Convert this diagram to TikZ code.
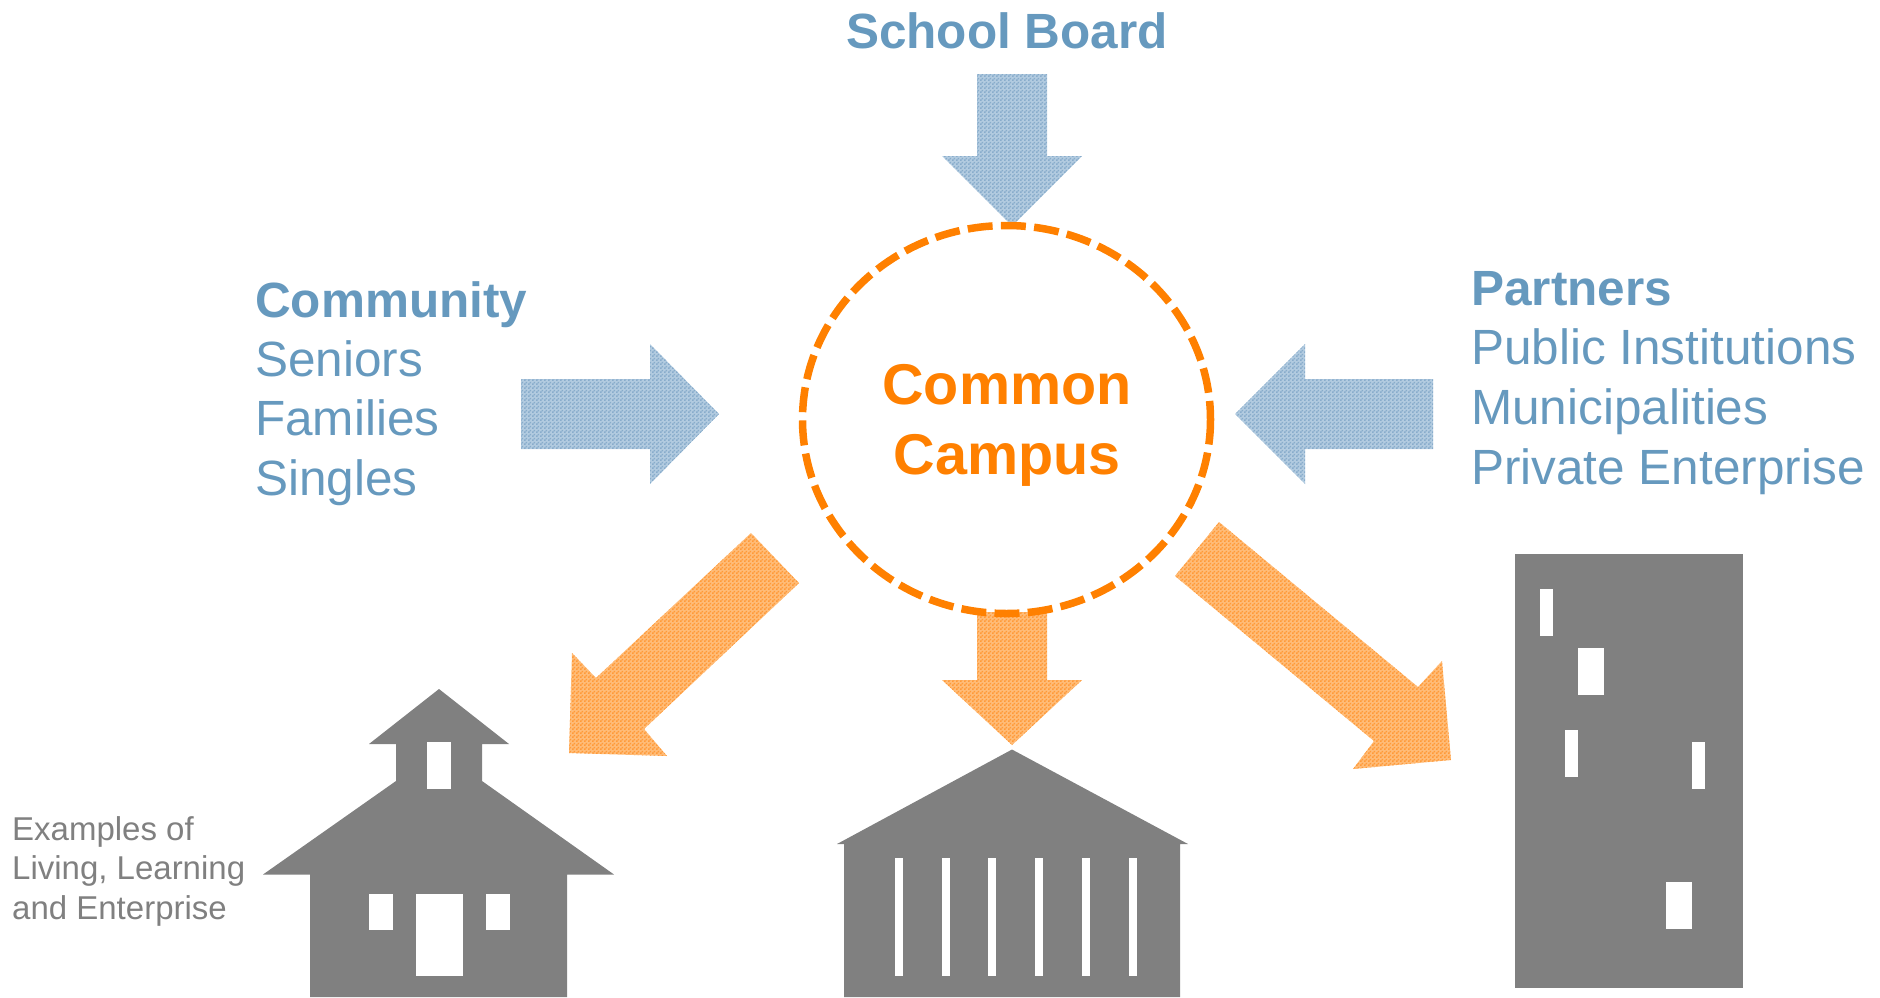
\documentclass[tikz,border=0pt]{standalone}
\usepackage{fontspec}
\usetikzlibrary{patterns}
\setmainfont{Liberation Sans}
\definecolor{txtblue}{HTML}{6699BE}
\definecolor{bluelight}{HTML}{B2CBE0}
\definecolor{bluedark}{HTML}{88ACCB}
\definecolor{orangelight}{HTML}{FFBC78}
\definecolor{orangedark}{HTML}{FF9A38}
\definecolor{campus}{HTML}{FF8000}
\definecolor{bldg}{HTML}{808080}
\pgfdeclarepatternformonly{ditherchk}{\pgfqpoint{0pt}{0pt}}{\pgfqpoint{4pt}{4pt}}{\pgfqpoint{4pt}{4pt}}{%
  \pgfpathrectangle{\pgfqpoint{0pt}{0pt}}{\pgfqpoint{2pt}{2pt}}%
  \pgfpathrectangle{\pgfqpoint{2pt}{2pt}}{\pgfqpoint{2pt}{2pt}}%
  \pgfusepath{fill}}
\tikzset{
  boardtext/.style={anchor=base,font=\fontsize{49.5}{60}\selectfont\bfseries,text=txtblue,inner sep=0pt},
  stack/.style={anchor=base west,font=\fontsize{49.5}{60}\selectfont,text=txtblue,inner sep=0pt},
  stackhead/.style={stack,font=\fontsize{49.5}{60}\selectfont\bfseries},
  campustext/.style={anchor=base,font=\fontsize{57.5}{68}\selectfont\bfseries,text=campus,inner sep=0pt},
  small/.style={anchor=base west,font=\fontsize{33}{40}\selectfont,text=bldg,inner sep=0pt},
  inblue/.style={preaction={fill=bluelight},pattern=ditherchk,pattern color=bluedark},
  outorange/.style={preaction={fill=orangelight},pattern=ditherchk,pattern color=orangedark},
  building/.style={fill=bldg,draw=none},
  hole/.style={fill=white,draw=none},
}
\begin{document}
\begin{tikzpicture}[x=1pt,y=-1pt]
\useasboundingbox (0,0) rectangle (1880,997);
% arrows in
\path[inblue] (977,74)--(1047,74)--(1047,156)--(1082,156)--(1012,226)--(942,156)--(977,156)--cycle;
\path[inblue] (521,379)--(650,379)--(650,344)--(719,414)--(650,484)--(650,449)--(521,449)--cycle;
\path[inblue] (1433,379)--(1305,379)--(1305,344)--(1235,414)--(1305,484)--(1305,449)--(1433,449)--cycle;
% arrows out
\path[outorange] (977,612)--(1047,612)--(1047,680)--(1082,680)--(1012,745)--(942,680)--(977,680)--cycle;
\path[outorange] (751,533)--(799,583)--(644,729)--(667,756)--(569,753)--(572,653)--(596,678)--cycle;
\path[outorange] (1219,522)--(1175,576)--(1374,741)--(1353,769)--(1451,760)--(1442,661)--(1418,687)--cycle;
% campus
\draw[campus,line width=7.5pt,dash pattern=on 25pt off 8.3pt] (1006.5,419.5) ellipse [x radius=204,y radius=194];
\node[campustext] (c1) at (1007,404.5) {Common};
\node[campustext] (c2) at (1007,474) {Campus};
% labels
\node[boardtext] (board) at (1007,48) {School Board};
\node[stackhead] (comm) at (255,317) {Community};
\node[stack] at (255,376) {Seniors};
\node[stack] at (255,435.5) {Families};
\node[stack] at (255,495.5) {Singles};
\node[stackhead] (part) at (1471,305) {Partners};
\node[stack] at (1471,364.5) {Public Institutions};
\node[stack] at (1471,424.5) {Municipalities};
\node[stack] at (1471,484) {Private Enterprise};
\node[small] at (12,840) {Examples of};
\node[small] at (12,879.5) {Living, Learning};
\node[small] at (12,919) {and Enterprise};
% school
\fill[building] (439,689)--(509,744)--(482,744)--(482,781)--(614,874.5)--(567,874.5)--(567,997)--(310,997)--(310,874.5)--(263,874.5)--(396,781)--(396,744)--(369,744)--cycle;
\fill[hole] (427,742) rectangle (451,789);
\fill[hole] (416,893.5) rectangle (463,976);
\fill[hole] (369,893.5) rectangle (393,929.5);
\fill[hole] (486,893.5) rectangle (510,929.5);
% temple
\fill[building] (1012,749.5)--(1188,844)--(1180,844)--(1180,997)--(844,997)--(844,844)--(837,844)--cycle;
\foreach \x in {895,942,988,1035,1082,1129} \fill[hole] (\x,858) rectangle ++(8,118);
% tower
\fill[building] (1515,553.5) rectangle (1743,988);
\fill[hole] (1540,589) rectangle (1553,636);
\fill[hole] (1578,648) rectangle (1604,695);
\fill[hole] (1565,730) rectangle (1578,777);
\fill[hole] (1692,742) rectangle (1705,789);
\fill[hole] (1666,882) rectangle (1692,929);
\end{tikzpicture}
\end{document}
